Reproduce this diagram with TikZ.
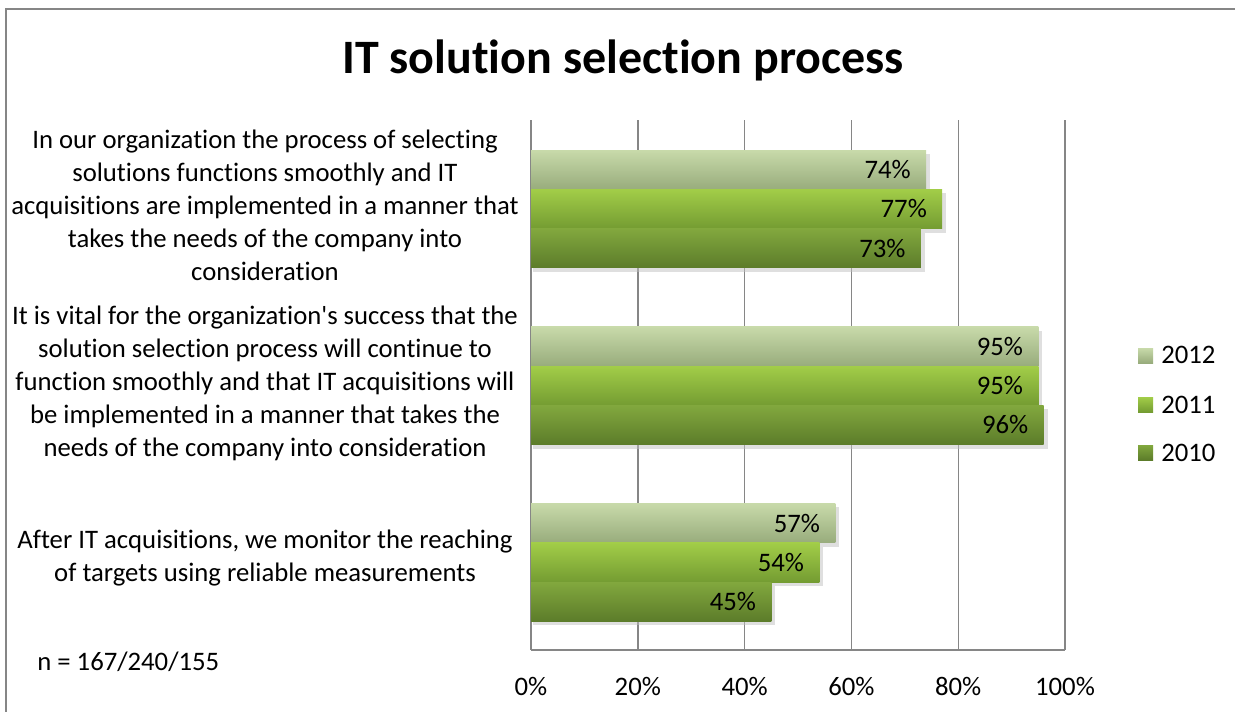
\documentclass[tikz,border=0pt]{standalone}
\usepackage{fontspec}
\setmainfont{Carlito}[Ligatures={TeXOff,CommonOff}]
\usetikzlibrary{positioning, shadows}
\definecolor{framegray}{RGB}{134,134,134}
\definecolor{paletop}{RGB}{200,218,170}
\definecolor{palebot}{RGB}{152,172,124}
\definecolor{limetop}{RGB}{162,205,72}
\definecolor{limebot}{RGB}{116,156,50}
\definecolor{olivetop}{RGB}{130,168,62}
\definecolor{olivebot}{RGB}{92,124,42}
\def\plotleft{531}
\def\plotright{1065}
\def\plottop{120}
\def\plotbottom{650}
\def\barh{39.3}
\def\pct{5.34}
% one bar: name, top edge, value, top colour, bottom colour
\newcommand{\surveybar}[5]{%
  \fill[black!25, opacity=.5] (\plotleft+2,#2+4) rectangle (\plotleft+\pct*#3+4,#2+\barh+4);
  \shade[top color=#4, bottom color=#5] (\plotleft,#2) rectangle (\plotleft+\pct*#3,#2+\barh);
  \node[barlabel, anchor=east] (#1) at (\plotleft+\pct*#3-15,#2+\barh/2) {#3\%};}
\tikzset{
  chartfont/.style={font=\fontsize{15.2}{18.8}\selectfont},
  barlabel/.style={chartfont, inner sep=0pt},
  catlabel/.style={chartfont, align=center, inner sep=0pt},
  gridline/.style={framegray, line width=0.8pt}
}

\begin{document}
\begin{tikzpicture}[x=0.02cm, y=-0.02cm]
  \useasboundingbox (0,0) rectangle (1235,711);
  % chart frame, running past the page
  \draw[framegray, line width=1.3pt] (6,9) rectangle (1260,740);

  \node[font=\fontsize{27.3}{32}\selectfont\bfseries] (title) at (623,60) {IT solution selection process};

  % grid and axis
  \foreach \i in {0,...,5}
    \draw[gridline] (\plotleft+106.8*\i,\plottop) -- (\plotleft+106.8*\i,\plotbottom);
  \draw[gridline] (\plotleft,\plotbottom) -- (\plotright,\plotbottom);
  \foreach \i/\t in {0/0,1/20,2/40,3/60,4/80,5/100}
    \node[barlabel] (tick\i) at (\plotleft+106.8*\i,686) {\t\%};

  % bars
  \surveybar{smooth12}{150}{74}{paletop}{palebot}
  \surveybar{smooth11}{189.3}{77}{limetop}{limebot}
  \surveybar{smooth10}{228.6}{73}{olivetop}{olivebot}

  \surveybar{vital12}{326.7}{95}{paletop}{palebot}
  \surveybar{vital11}{366}{95}{limetop}{limebot}
  \surveybar{vital10}{405.3}{96}{olivetop}{olivebot}

  \surveybar{targets12}{503.4}{57}{paletop}{palebot}
  \surveybar{targets11}{542.7}{54}{limetop}{limebot}
  \surveybar{targets10}{582}{45}{olivetop}{olivebot}

  % category labels
  \node[catlabel] (smooth) at (265,205) {In our organization the process of selecting\\solutions functions smoothly and IT\\acquisitions are implemented in a manner that\\takes the needs of the company into\\consideration};
  \node[catlabel] (vital) at (265,383) {It is vital for the organization's success that the\\solution selection process will continue to\\function smoothly and that IT acquisitions will\\be implemented in a manner that takes the\\needs of the company into consideration};
  \node[catlabel] (targets) at (265,558) {After IT acquisitions, we monitor the reaching\\of targets using reliable measurements};

  \node[barlabel, anchor=west] (sample) at (37,662) {n = 167/240/155};

  % legend
  \shade[top color=paletop, bottom color=palebot] (1138,348) rectangle (1153,363);
  \node[barlabel, anchor=west] (leg12) at (1161,355) {2012};
  \shade[top color=limetop, bottom color=limebot] (1138,397) rectangle (1153,412);
  \node[barlabel, anchor=west] (leg11) at (1161,405) {2011};
  \shade[top color=olivetop, bottom color=olivebot] (1138,445) rectangle (1153,460);
  \node[barlabel, anchor=west] (leg10) at (1161,453) {2010};
\end{tikzpicture}
\end{document}
